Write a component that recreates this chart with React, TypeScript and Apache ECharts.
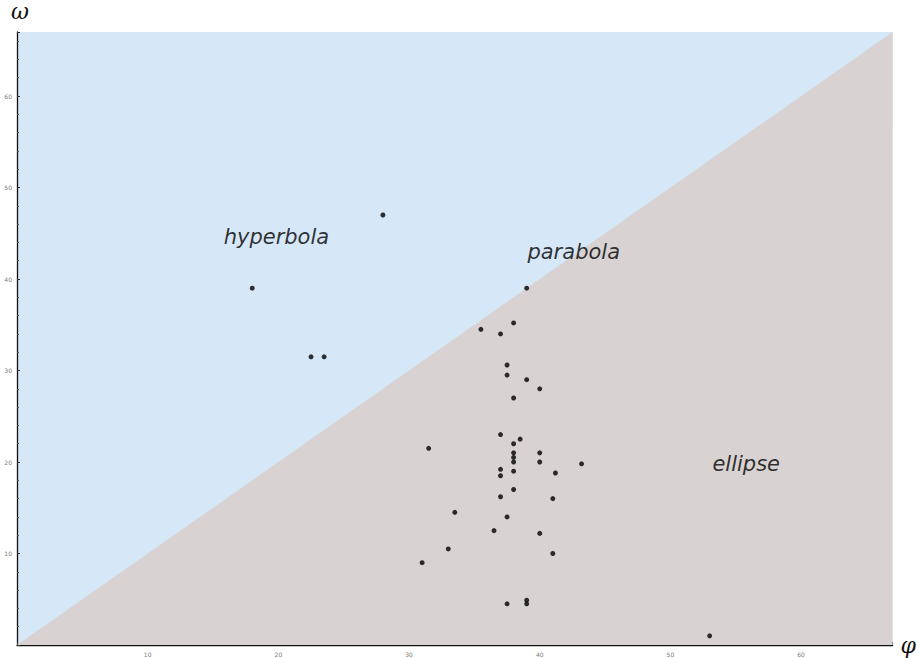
import React, { useEffect, useRef } from "react";
import * as echarts from "echarts";

const phi = [28, 18, 22.5, 23.5, 39, 38, 35.5, 37, 37.5, 37.5, 39, 40, 38, 37, 38.5, 31.5, 38, 38, 38, 38, 38, 40, 40, 43.2, 37, 37, 41.2, 38, 37, 41, 33.5, 37.5, 36.5, 40, 33, 41, 31, 37.5, 39, 39, 53];
const omega = [47, 39, 31.5, 31.5, 39, 35.2, 34.5, 34, 30.6, 29.5, 29, 28, 27, 23, 22.5, 21.5, 22, 21, 20.5, 20, 19, 21, 20, 19.8, 19.2, 18.5, 18.8, 17, 16.2, 16, 14.5, 14, 12.5, 12.2, 10.5, 10, 9, 4.5, 4.9, 4.5, 1];
const boundary = [[0, 0], [67, 67]];
const regionLabels = ["hyperbola", "parabola", "ellipse"];
const regionPhi = [19.85, 42.6, 55.8];
const regionOmega = [44.6, 42.9, 19.8];
const tickValues = [10, 20, 30, 40, 50, 60];

export default function App() {
  const ref = useRef<HTMLDivElement>(null);
  useEffect(() => {
    if (!ref.current) return;
    const chart = echarts.init(ref.current, null, { renderer: "svg" });
    const axisCommon = {
      type: "value" as const,
      min: 0,
      max: 67,
      interval: 10,
      splitLine: { show: false },
      axisLine: { show: true, onZero: false, lineStyle: { color: "#111", width: 1.3 } },
      axisTick: { show: true, inside: true, length: 3, lineStyle: { color: "#333" } },
      minorTick: { show: true, splitNumber: 5, length: 2, lineStyle: { color: "#555" } },
      axisLabel: {
        fontSize: 6,
        color: "#777",
        fontFamily: "DejaVu Sans",
        formatter: (v: number) => (tickValues.includes(v) ? String(v) : ""),
      },
    };
    chart.setOption({
      animation: false,
      grid: {
        left: 17,
        right: 26,
        top: 26,
        bottom: 13,
        show: true,
        backgroundColor: "#d6e7f7",
        borderWidth: 0,
      },
      xAxis: {
        ...axisCommon,
        name: "φ",
        nameLocation: "end",
        nameGap: 8,
        nameTextStyle: { fontSize: 22, fontStyle: "italic", fontFamily: "DejaVu Serif", color: "#111", verticalAlign: "middle" },
        axisLabel: { ...axisCommon.axisLabel, margin: 6 },
      },
      yAxis: {
        ...axisCommon,
        name: "ω",
        nameLocation: "end",
        nameGap: 10,
        nameTextStyle: { fontSize: 22, fontStyle: "italic", fontFamily: "DejaVu Serif", color: "#111", align: "left", padding: [0, 0, 0, -6] },
        axisLabel: { ...axisCommon.axisLabel, margin: 5 },
      },
      series: [
        {
          type: "line",
          data: boundary,
          symbol: "none",
          lineStyle: { width: 0 },
          areaStyle: { color: "#d8d3d2", opacity: 1 },
          z: 1,
          silent: true,
        },
        {
          type: "scatter",
          data: phi.map((p, i) => [p, omega[i]]),
          symbolSize: 5,
          itemStyle: { color: "#000" },
          z: 3,
        },
        {
          type: "scatter",
          data: regionLabels.map((n, i) => ({ value: [regionPhi[i], regionOmega[i]], name: n })),
          symbolSize: 0,
          z: 4,
          label: {
            show: true,
            position: "inside",
            formatter: (p: any) => p.name,
            fontSize: 21,
            fontStyle: "italic",
            fontFamily: "DejaVu Sans",
            color: "#000",
          },
        },
      ],
    });
    return () => chart.dispose();
  }, []);
  return (
    <div
      ref={ref}
      style={{ position: "fixed", left: 0, top: 0, width: 919, height: 658, background: "#fff" }}
    />
  );
}
